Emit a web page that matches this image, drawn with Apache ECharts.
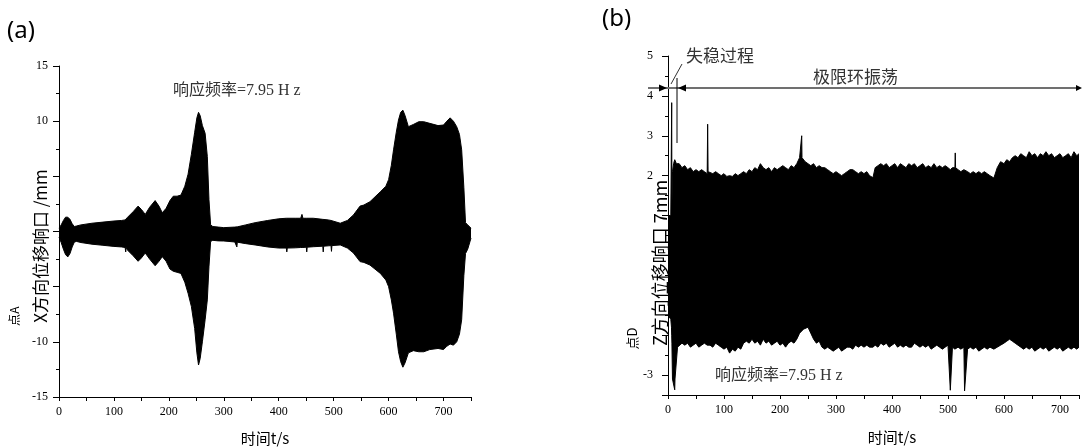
<!DOCTYPE html>
<html><head><meta charset="utf-8">
<script src="https://cdn.jsdelivr.net/npm/echarts@6/dist/echarts.min.js"></script>
<style>html,body{margin:0;padding:0;background:#fff}#c{width:1082px;height:447px}</style>
</head><body><div id="c"></div>
<script>
// ---- Panel (a): X-direction response envelope (time s, upper mm, lower mm)
const tA  = [0,4,8,12,16,20,24,28,32,40,60,80,100,114,120.4,121.4,122.4,125,135,144,150,157,165,175,182,188,195,202,208,215,222,229,235,241,247,251,254,257,261,266,270,273,276,280,290,300,320,323,323.8,324.6,340,357,380,400,413.8,414.7,415.6,430,440,442.3,444,450.2,451,451.8,463,480.2,481,481.8,490,495.2,496,496.8,512,525,536,548,555,566,585,595,600,605,609,614,618,622,626,630,636,645,655,664,675,690,700,706,712,718,724,729,733,737,740,744,747,750];
const upA = [0.3,0.6,1.0,1.3,1.3,1.1,0.7,0.45,0.5,0.6,0.75,0.85,0.95,1.0,1.05,1.05,1.05,1.3,1.8,2.3,2.0,1.55,2.2,2.8,2.3,1.7,2.1,2.8,3.2,3.2,3.3,4.1,5.2,7.0,9.0,10.3,10.8,10.5,9.6,8.9,6.8,2.9,0.6,0.45,0.4,0.35,0.4,0.42,0.42,0.42,0.6,0.8,1.0,1.15,1.2,1.2,1.2,1.2,1.2,1.55,1.2,1.2,1.2,1.2,1.2,1.1,1.1,1.1,1.05,1.0,1.0,1.0,0.75,1.0,1.5,2.3,2.4,2.7,3.6,4.1,4.7,6.0,7.4,9.0,10.1,10.8,11.0,10.5,9.5,9.7,9.95,9.95,9.8,9.6,9.65,10.0,10.3,10.0,9.5,8.8,7.4,4.0,0.8,0.6,0.6,0.3];
const loA = [-0.5,-1.0,-1.6,-2.1,-2.3,-2.0,-1.4,-0.95,-0.9,-1.0,-1.15,-1.25,-1.35,-1.4,-1.45,-1.85,-1.45,-1.7,-2.2,-2.7,-2.4,-1.95,-2.5,-3.1,-2.7,-2.28,-2.7,-3.4,-3.6,-3.7,-3.8,-4.6,-5.6,-6.8,-8.8,-11.0,-12.1,-11.5,-10.0,-8.0,-6.2,-3.2,-0.9,-0.8,-0.85,-0.86,-0.95,-0.96,-1.4,-0.97,-1.1,-1.22,-1.4,-1.5,-1.5,-1.85,-1.5,-1.48,-1.45,-1.45,-1.45,-1.42,-1.85,-1.42,-1.38,-1.33,-1.85,-1.33,-1.3,-1.28,-1.8,-1.28,-1.22,-1.5,-1.95,-2.73,-2.8,-3.04,-3.8,-4.4,-5.0,-6.2,-7.4,-9.3,-10.9,-11.8,-12.3,-11.9,-11.0,-10.8,-10.9,-10.9,-10.7,-10.6,-10.7,-10.4,-10.2,-10.3,-10.0,-9.3,-8.0,-4.0,-2.0,-1.6,-1.5,-0.6];

// ---- Panel (b): Z-direction response envelope
const tB  = [0,3,5,6.2,6.6,7.0,8,10,11.5,12,12.5,15,17,20,25,30,35,40,45,50,55,60,65,70,70.8,71.6,75,80,85,90,95,100,105,110,115,120,125,130,135,140,145,150,155,160,165,170,175,180,185,190,195,200,205,210,215,220,225,230,235,238.3,238.8,239.3,242,245,250,255,260,265,270,275,280,285,290,295,300,305,310,315,320,325,330,335,340,345,350,355,360,366,370,375,380,385,390,395,400,405,410,415,420,425,430,435,440,445,450,455,460,465,470,475,480,485,490,495,500,503,503.6,504.2,508,512.4,513,513.6,518,523,528.4,529,529.6,535,540,545,550,555,560,565,570,575,582,588,594,600,605,610,615,620,625,630,635,640,645,650,655,660,665,670,675,680,685,690,695,700,705,710,715,720,725,730,734];
const upB = [1.0,1.0,1.0,1.0,3.83,1.2,2.1,2.3,2.35,2.4,2.35,2.3,2.35,2.3,2.2,2.25,2.15,2.2,2.1,2.15,2.1,2.15,2.1,2.05,3.29,2.1,2.1,2.05,2.1,2.05,2.0,2.05,1.98,2.0,1.98,2.05,2.0,2.05,2.1,2.05,2.15,2.1,2.2,2.15,2.3,2.2,2.15,2.2,2.1,2.2,2.15,2.2,2.25,2.2,2.15,2.25,2.2,2.3,2.45,2.4,3.0,2.45,2.4,2.35,2.3,2.25,2.3,2.2,2.25,2.2,2.2,2.15,2.1,2.05,2.1,2.05,2.0,2.05,2.1,2.15,2.15,2.1,2.05,2.1,2.05,2.1,2.0,1.95,2.2,2.25,2.3,2.25,2.3,2.2,2.25,2.3,2.2,2.3,2.25,2.2,2.3,2.25,2.3,2.2,2.25,2.3,2.2,2.25,2.2,2.3,2.2,2.25,2.2,2.25,2.2,2.2,2.2,2.15,2.2,2.2,2.57,2.2,2.15,2.1,2.15,2.15,2.1,2.1,2.05,2.1,2.05,2.1,2.05,2.1,2.05,2.0,1.94,2.2,2.35,2.3,2.4,2.35,2.45,2.5,2.45,2.55,2.5,2.45,2.6,2.5,2.55,2.45,2.55,2.5,2.6,2.5,2.55,2.45,2.5,2.55,2.45,2.5,2.55,2.45,2.6,2.5,2.55];
const loB = [-1.5,-1.5,-1.6,-1.8,-2.0,-2.2,-3.1,-3.1,-3.15,-3.37,-3.1,-3.1,-2.3,-2.25,-2.2,-2.25,-2.2,-2.3,-2.25,-2.2,-2.3,-2.25,-2.2,-2.25,-2.25,-2.3,-2.25,-2.3,-2.2,-2.25,-2.3,-2.35,-2.3,-2.45,-2.35,-2.4,-2.3,-2.35,-2.2,-2.15,-2.2,-2.1,-2.2,-2.15,-2.25,-2.1,-2.2,-2.15,-2.25,-2.2,-2.15,-2.25,-2.2,-2.3,-2.2,-2.15,-2.2,-2.1,-1.95,-1.9,-1.9,-1.9,-1.85,-1.8,-1.8,-1.95,-2.1,-2.2,-2.15,-2.3,-2.35,-2.3,-2.35,-2.4,-2.35,-2.3,-2.4,-2.35,-2.3,-2.3,-2.35,-2.25,-2.3,-2.25,-2.3,-2.25,-2.3,-2.3,-2.25,-2.3,-2.2,-2.25,-2.2,-2.3,-2.25,-2.2,-2.3,-2.25,-2.3,-2.25,-2.3,-2.3,-2.2,-2.25,-2.3,-2.25,-2.3,-2.25,-2.35,-2.3,-2.25,-2.3,-2.35,-2.3,-2.25,-2.3,-2.3,-3.38,-2.3,-2.35,-2.3,-2.3,-2.3,-2.35,-2.3,-2.35,-3.4,-2.35,-2.3,-2.35,-2.3,-2.4,-2.35,-2.3,-2.35,-2.3,-2.35,-2.3,-2.25,-2.2,-2.15,-2.1,-2.15,-2.2,-2.25,-2.3,-2.35,-2.3,-2.35,-2.3,-2.4,-2.35,-2.3,-2.35,-2.3,-2.4,-2.35,-2.3,-2.35,-2.3,-2.4,-2.35,-2.3,-2.35,-2.3,-2.35,-2.3,-2.35];

// tick labels shown
const yLabelsA = [15, 10, -10, -15];
const yLabelsB = [5, 4, 3, 2, -3];
const xLabels = [0, 100, 200, 300, 400, 500, 600, 700];

const serif = 'Liberation Serif, "Noto Sans CJK SC", serif';
const cjk = '"Noto Sans CJK SC", sans-serif';

function pairs(t, v) { return t.map((x, i) => [x, v[i]]); }

function xAx(gi, max) {
  return {
    type: 'value', gridIndex: gi, min: 0, max: max, interval: 50,
    axisLine: { show: true, onZero: false, lineStyle: { color: '#000', width: 1 } },
    axisTick: { show: true, inside: false, length: 4, lineStyle: { color: '#000' } },
    axisLabel: { margin: 9, color: '#000', fontFamily: serif, fontSize: 12,
      formatter: v => xLabels.includes(v) ? String(v) : '' },
    splitLine: { show: false }
  };
}
function yAx(gi, min, max, interval, labels, minor, margin) {
  const o = {
    type: 'value', gridIndex: gi, min: min, max: max, position: 'left', offset: 0,
    axisLine: { show: true, onZero: false, lineStyle: { color: '#000', width: 1 } },
    axisTick: { show: true, inside: false, length: 6, lineStyle: { color: '#000' } },
    minorTick: { show: !!minor, splitNumber: 2, length: 3, lineStyle: { color: '#000' } },
    axisLabel: { margin: margin, color: '#000', fontFamily: serif, fontSize: 12,
      formatter: v => labels.includes(v) ? String(v) : '' },
    splitLine: { show: false }, minorSplitLine: { show: false }
  };
  if (interval) o.interval = interval; else o.splitNumber = 8;
  return o;
}

function band(xi, yi, data, origin) {
  return {
    type: 'line', xAxisIndex: xi, yAxisIndex: yi, data: data, showSymbol: false, symbol: 'none',
    lineStyle: { color: '#000', width: 1 }, areaStyle: { color: '#000', opacity: 1, origin: origin },
    silent: true, animation: false, z: 2
  };
}

// minor-tick overlay axis for panel (b)
const yMinorB = {
  type: 'value', gridIndex: 1, min: -3.5, max: 5, interval: 0.5, position: 'left', offset: 0,
  axisLine: { show: false }, axisTick: { show: true, inside: false, length: 3, lineStyle: { color: '#000' } },
  axisLabel: { show: false }, splitLine: { show: false }
};

const chart = echarts.init(document.getElementById('c'), null, { renderer: 'canvas' });
chart.setOption({
  backgroundColor: '#fff',
  animation: false,
  grid: [
    { left: 59, top: 66, width: 412, height: 331 },
    { left: 668, top: 56, width: 414, height: 339 }
  ],
  xAxis: [xAx(0, 750), xAx(1, 734)],
  yAxis: [yAx(0, -15, 15, 5, yLabelsA, true, 11), yAx(1, -3.5, 5, null, yLabelsB, false, 15), yMinorB],
  series: [
    band(0, 0, pairs(tA, upA), -0.3),
    band(0, 0, pairs(tA, loA), 'auto'),
    band(1, 1, pairs(tB, upB), -0.3),
    band(1, 1, pairs(tB, loB), 'auto')
  ],
  graphic: [
    // panel titles
    { type: 'text', left: 7, top: 19, style: { text: '(a)', font: '24px "Noto Sans", sans-serif', fill: '#000' } },
    { type: 'text', left: 602, top: 7, style: { text: '(b)', font: '24px "Noto Sans", sans-serif', fill: '#000' } },
    // axis names (a)
    { type: 'text', x: 265, y: 438, style: { text: '时间t/s', font: '15px ' + cjk, fill: '#000', align: 'center', verticalAlign: 'middle' } },
    { type: 'text', x: 41, y: 246, rotation: Math.PI / 2, style: { text: 'X方向位移响口 /mm', font: '17px ' + cjk, fill: '#000', align: 'center', verticalAlign: 'middle' } },
    { type: 'text', x: 14, y: 310, rotation: Math.PI / 2, style: { text: 'A', font: '12px ' + cjk, fill: '#000', align: 'center', verticalAlign: 'middle' } },
    { type: 'text', x: 14, y: 320, rotation: Math.PI / 2, style: { text: '点', font: '12px ' + cjk, fill: '#000', align: 'center', verticalAlign: 'middle' } },
    // axis names (b)
    { type: 'text', x: 892, y: 437, style: { text: '时间t/s', font: '15px ' + cjk, fill: '#000', align: 'center', verticalAlign: 'middle' } },
    { type: 'text', x: 660, y: 263, rotation: Math.PI / 2, style: { text: 'Z方向位移响口 7mm', font: '18px ' + cjk, fill: '#000', align: 'center', verticalAlign: 'middle' } },
    { type: 'text', x: 632, y: 332, rotation: Math.PI / 2, style: { text: 'D', font: '13px ' + cjk, fill: '#000', align: 'center', verticalAlign: 'middle' } },
    { type: 'text', x: 632, y: 343, rotation: Math.PI / 2, style: { text: '点', font: '13px ' + cjk, fill: '#000', align: 'center', verticalAlign: 'middle' } },
    // frequency notes
    { type: 'text', left: 173, top: 83, style: { text: '响应频率=7.95 H z', font: '16px ' + serif, fill: '#333' } },
    { type: 'text', left: 715, top: 368, style: { text: '响应频率=7.95 H z', font: '16px ' + serif, fill: '#333' } },
    // (b) annotations
    { type: 'line', shape: { x1: 648, y1: 88, x2: 1080, y2: 88 }, style: { stroke: '#707070', lineWidth: 2 }, z: 10 },
    { type: 'polygon', shape: { points: [[659, 84.5], [667, 88], [659, 91.5]] }, style: { fill: '#000' }, z: 11 },
    { type: 'polygon', shape: { points: [[678, 88], [686, 84.5], [686, 91.5]] }, style: { fill: '#000' }, z: 11 },
    { type: 'polygon', shape: { points: [[1076, 85], [1082, 88], [1076, 91]] }, style: { fill: '#000' }, z: 11 },
    { type: 'line', shape: { x1: 677, y1: 78, x2: 677, y2: 143 }, style: { stroke: '#000', lineWidth: 1 }, z: 10 },
    { type: 'line', shape: { x1: 671, y1: 84, x2: 682, y2: 64 }, style: { stroke: '#333', lineWidth: 1 }, z: 10 },
    { type: 'text', left: 686, top: 47, style: { text: '失稳过程', font: '17px ' + cjk, fill: '#333' } },
    { type: 'text', left: 813, top: 68, style: { text: '极限环振荡', font: '17px ' + cjk, fill: '#333' } }
  ]
});
</script></body></html>
